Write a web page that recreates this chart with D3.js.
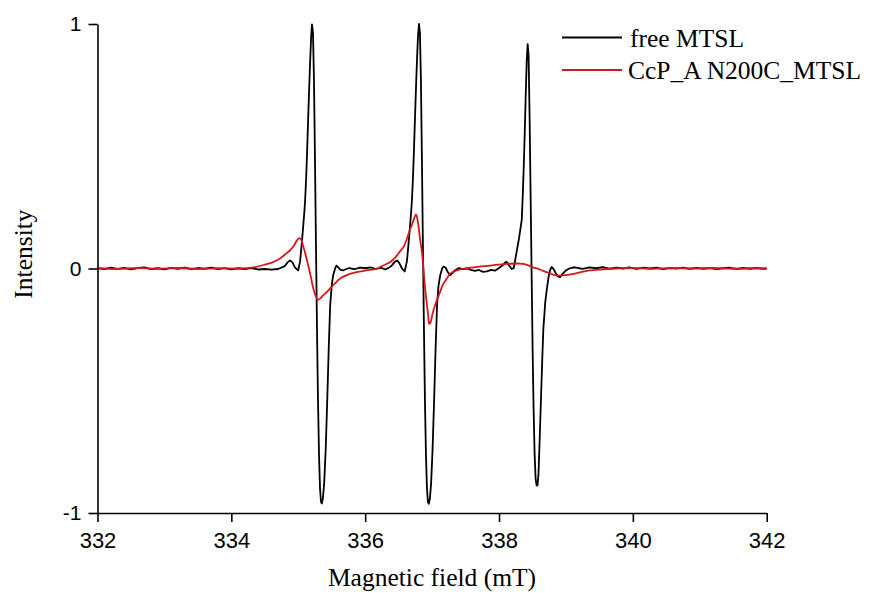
<!DOCTYPE html>
<html>
<head>
<meta charset="utf-8">
<script src="https://cdn.jsdelivr.net/npm/d3@7"></script>
<style>
  body { margin: 0; background: #fff; }
  svg { display: block; }
  .tick text { font-family: "Liberation Sans", Arial, sans-serif; fill: #000; }
  .title, .legend text { font-family: "Liberation Serif", "Times New Roman", serif; fill: #000; }
</style>
</head>
<body>
<div id="chart"></div>
<script>
// EPR spectra (field in mT, normalised intensity)
var freeMTSL = [
  [332.00,0.002],[332.10,-0.003],[332.20,0.004],[332.30,-0.002],[332.40,0.003],[332.50,-0.004],
  [332.60,0.002],[332.70,0.005],[332.80,-0.003],[332.90,0.001],[333.00,-0.004],[333.10,0.003],
  [333.20,-0.002],[333.30,0.004],[333.40,-0.003],[333.50,0.002],[333.60,-0.001],[333.70,0.004],
  [333.80,-0.003],[333.90,0.002],[334.00,-0.004],[334.10,0.001],[334.20,-0.003],[334.30,0.002],
  [334.40,-0.004],[334.50,-0.002],[334.60,-0.005],[334.70,-0.002],
  [334.80,0.010],[334.84,0.025],[334.877,0.033],[334.914,0.025],[334.95,0.005],[334.998,-0.008],
  [335.028,0.03],[335.058,0.12],[335.088,0.22],[335.103,0.28],[335.118,0.37],[335.133,0.483],
  [335.148,0.614],[335.163,0.736],[335.178,0.851],[335.193,0.949],[335.205,0.998],[335.22,0.965],
  [335.235,0.769],[335.25,0.442],[335.265,0.09],[335.28,-0.245],[335.295,-0.54],[335.31,-0.76],
  [335.325,-0.9],[335.34,-0.955],[335.353,-0.961],[335.368,-0.94],[335.387,-0.88],[335.41,-0.74],
  [335.432,-0.55],[335.455,-0.33],[335.477,-0.15],[335.50,-0.07],[335.52,-0.03],[335.55,0.0],
  [335.57,0.012],[335.594,0.006],[335.631,-0.006],[335.668,-0.008],
  [335.70,-0.004],[335.76,0.002],[335.84,-0.003],[335.92,0.004],[336.00,0.001],[336.08,0.005],
  [336.16,-0.002],[336.24,0.003],[336.30,-0.004],[336.36,0.004],
  [336.40,0.013],[336.44,0.027],[336.48,0.033],[336.51,0.022],[336.55,0.0],[336.59,-0.012],
  [336.624,0.03],[336.654,0.12],[336.684,0.22],[336.699,0.28],[336.714,0.37],[336.729,0.483],
  [336.744,0.614],[336.759,0.736],[336.774,0.851],[336.789,0.949],[336.804,1.0],[336.818,0.965],
  [336.833,0.769],[336.848,0.442],[336.863,0.09],[336.878,-0.245],[336.893,-0.54],[336.908,-0.76],
  [336.923,-0.9],[336.938,-0.955],[336.952,-0.962],[336.967,-0.94],[336.985,-0.88],[337.007,-0.74],
  [337.029,-0.55],[337.052,-0.33],[337.074,-0.15],[337.096,-0.07],[337.12,-0.03],[337.15,0.0],
  [337.17,0.008],[337.20,0.004],[337.23,-0.012],[337.267,-0.028],[337.30,-0.02],[337.34,-0.008],
  [337.40,0.002],[337.46,-0.003],[337.52,0.0],[337.58,-0.006],[337.64,-0.01],[337.70,-0.006],
  [337.76,-0.014],[337.82,-0.012],[337.88,-0.006],[337.94,-0.009],[338.00,0.002],[338.05,0.012],
  [338.09,0.024],[338.115,0.027],[338.15,0.012],[338.19,-0.002],[338.22,0.002],[338.258,0.06],
  [338.30,0.125],[338.34,0.2],[338.355,0.3],[338.37,0.42],[338.385,0.56],[338.40,0.72],
  [338.414,0.85],[338.428,0.918],[338.442,0.87],[338.457,0.62],[338.472,0.3],[338.487,-0.02],
  [338.502,-0.33],[338.517,-0.58],[338.532,-0.76],[338.547,-0.86],[338.562,-0.888],[338.575,-0.887],
  [338.59,-0.84],[338.605,-0.72],[338.625,-0.55],[338.645,-0.38],[338.662,-0.25],[338.69,-0.14],
  [338.712,-0.09],[338.74,-0.035],[338.765,-0.005],[338.787,0.006],[338.81,0.0],[338.85,-0.02],
  [338.88,-0.032],[338.911,-0.035],[338.95,-0.022],[339.00,-0.008],[339.05,0.0],[339.105,0.004],
  [339.15,0.004],[339.25,-0.002],[339.35,0.005],[339.45,0.001],[339.55,0.006],[339.65,-0.001],
  [339.75,0.004],[339.85,0.0],[339.95,0.005],[340.05,-0.002],[340.15,0.003],[340.25,0.0],
  [340.35,0.004],[340.45,-0.003],[340.55,0.002],[340.65,0.0],[340.75,0.004],[340.85,-0.002],
  [340.95,0.003],[341.05,-0.001],[341.15,0.002],[341.25,-0.003],[341.35,0.001],[341.45,0.003],
  [341.55,-0.002],[341.65,0.002],[341.75,-0.001],[341.85,0.002],[341.95,-0.001],[342.00,0.0]
];

var ccpMTSL = [
  [332.00,0.001],[332.30,-0.002],[332.60,0.002],[332.90,-0.001],[333.20,0.002],[333.50,-0.002],
  [333.80,0.001],[334.13,0.0],[334.354,0.006],[334.503,0.016],[334.623,0.026],[334.727,0.041],
  [334.817,0.061],[334.877,0.074],[334.936,0.094],[334.981,0.115],[335.016,0.124],[335.041,0.119],
  [335.071,0.094],[335.101,0.065],[335.131,0.033],[335.160,0.0],[335.19,-0.037],[335.225,-0.082],
  [335.258,-0.11],[335.29,-0.128],[335.325,-0.123],[335.37,-0.11],[335.425,-0.097],[335.474,-0.082],
  [335.549,-0.061],[335.624,-0.041],[335.743,-0.025],[335.873,-0.015],[336.012,-0.008],[336.172,-0.001],
  [336.266,0.012],[336.371,0.026],[336.461,0.049],[336.52,0.07],[336.57,0.087],[336.625,0.123],
  [336.67,0.16],[336.695,0.176],[336.73,0.204],[336.759,0.221],[336.789,0.188],[336.819,0.123],
  [336.845,0.074],[336.871,0.0],[336.894,-0.076],[336.924,-0.151],[336.943,-0.196],[336.958,-0.226],
  [336.976,-0.221],[336.998,-0.196],[337.028,-0.164],[337.069,-0.131],[337.118,-0.097],[337.163,-0.065],
  [337.218,-0.042],[337.267,-0.022],[337.417,-0.004],[337.616,0.005],[337.865,0.012],[338.115,0.019],
  [338.363,0.019],[338.512,0.005],[338.612,-0.004],[338.712,-0.015],[338.807,-0.025],[338.911,-0.029],
  [339.001,-0.027],[339.11,-0.022],[339.21,-0.016],[339.359,-0.008],[339.509,-0.004],[339.758,0.0],
  [340.00,0.002],[340.30,-0.001],[340.60,0.002],[340.90,0.0],[341.20,0.002],[341.50,-0.001],
  [341.80,0.001],[342.00,0.0]
];

var seriesNames = ["free MTSL", "CcP_A N200C_MTSL"];
var seriesColors = ["#000000", "#d8161d"];
var xMajor = [332, 334, 336, 338, 340, 342];
var xMinor = [333, 335, 337, 339, 341];
var yMajor = [-1, 0, 1];
var yMinor = [-0.5, 0.5];

var width = 876, height = 593;
var svg = d3.select("#chart").append("svg")
  .attr("width", width).attr("height", height);

var x = d3.scaleLinear().domain([332, 342]).range([97.5, 766.7]);
var y = d3.scaleLinear().domain([-1, 1]).range([513, 24]);

// the red trace is smooth in the original, black one is drawn point to point
var curves = [d3.curveLinear, d3.curveCatmullRom.alpha(0.5)];

[freeMTSL, ccpMTSL].forEach(function(data, i) {
  var line = d3.line()
    .curve(curves[i])
    .x(function(d) { return x(d[0]); })
    .y(function(d) { return y(d[1]); });
  svg.append("path")
    .datum(data)
    .attr("fill", "none")
    .attr("stroke", seriesColors[i])
    .attr("stroke-width", 1.8)
    .attr("stroke-linejoin", "round")
    .attr("d", line);
});

// axes, plain hyphen for negative labels like the original
var fmt = function(d) { return String(d); };

var bottom = svg.append("g").attr("transform", "translate(0,513)");
bottom.call(d3.axisBottom(x).tickValues(xMinor).tickSize(5).tickSizeOuter(0).tickFormat(""));
bottom.call(d3.axisBottom(x).tickValues(xMajor).tickSize(9).tickSizeOuter(0).tickPadding(10).tickFormat(fmt));

var left = svg.append("g").attr("transform", "translate(97.5,0)");
left.call(d3.axisLeft(y).tickValues(yMinor).tickSize(5).tickSizeOuter(0).tickFormat(""));
left.call(d3.axisLeft(y).tickValues(yMajor).tickSize(9).tickSizeOuter(0).tickPadding(7).tickFormat(fmt));

svg.selectAll(".domain, .tick line").attr("stroke", "#000").attr("stroke-width", 1.6);
bottom.selectAll(".tick text").style("font-size", "22px");
left.selectAll(".tick text").style("font-size", "21px");

// titles
svg.append("text").attr("class", "title")
  .attr("x", 432).attr("y", 586)
  .attr("text-anchor", "middle")
  .style("font-size", "25.5px")
  .text("Magnetic field (mT)");

svg.append("text").attr("class", "title")
  .attr("transform", "translate(32,254) rotate(-90)")
  .attr("text-anchor", "middle")
  .style("font-size", "25.5px")
  .text("Intensity");

// legend
var legend = svg.append("g").attr("class", "legend");
seriesNames.forEach(function(name, i) {
  var ly = 37.5 + i * 32.5;
  legend.append("line")
    .attr("x1", 562).attr("x2", 622).attr("y1", ly).attr("y2", ly)
    .attr("stroke", seriesColors[i]).attr("stroke-width", 1.8);
  legend.append("text")
    .attr("x", i === 0 ? 630 : 628).attr("y", ly + 9)
    .style("font-size", "25.5px")
    .text(name);
});
</script>
</body>
</html>
